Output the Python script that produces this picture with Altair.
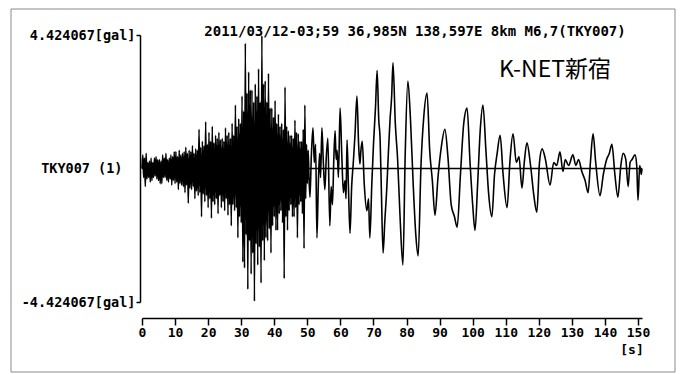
import altair as alt
import pandas as pd

AMAX = 4.424067

# dense early part: one row per second, values at +0.00, +0.25, +0.50, +0.75 s (gal)
sec_starts = list(range(0, 50))
dense_rows = [
    [0.0, 0.45, -0.3, 0.35], [-0.6, 0.5, -0.35, 0.2], [-0.3, 0.25, -0.45, 0.35], [-0.4, 0.2, -0.3, 0.35],
    [-0.25, 0.4, -0.35, 0.3], [-0.4, 0.3, -0.5, 0.25], [-0.5, 0.45, -0.3, 0.35], [-0.3, 0.5, -0.4, 0.3],
    [-0.45, 0.35, -0.35, 0.45], [-0.55, 0.4, -0.4, 0.55], [-0.5, 0.55, -0.45, 0.4], [-0.7, 0.6, -0.5, 0.45],
    [-0.55, 0.5, -0.6, 0.55], [-0.8, 0.7, -0.55, 0.5], [-1.15, 0.6, -0.65, 0.55], [-0.7, 0.75, -0.6, 0.5],
    [-1.0, 0.65, -0.75, 0.6], [-0.9, 1.3, -0.8, 0.7], [-1.6, 0.9, -0.85, 0.75], [-1.1, 1.55, -0.9, 0.8],
    [-1.3, 1.2, -1.0, 0.9], [-1.65, 1.4, -1.1, 0.85], [-1.2, 1.1, -1.0, 1.0], [-1.5, 1.2, -0.9, 0.95],
    [-1.3, 1.0, -1.1, 0.9], [-1.4, 1.35, -1.0, 1.1], [-1.55, 1.2, -1.2, 1.0], [-1.9, 1.5, -1.2, 1.1],
    [-1.4, 2.1, -1.3, 1.4], [-2.3, 1.65, -1.6, 1.5], [-1.8, 2.4, -3.1, 1.9], [-3.3, 4.15, -2.2, 2.5],
    [-4.0, 3.2, -2.4, 2.6], [-3.5, 2.6, -2.8, 2.2], [-4.4, 2.8, -2.5, 2.4], [-3.2, 3.3, -2.6, 2.2],
    [-3.8, 4.4, -2.4, 2.8], [-3.05, 2.9, -2.3, 2.2], [-2.4, 3.15, -2.0, 2.0], [-2.8, 2.0, -1.9, 1.7],
    [-1.6, 2.25, -2.05, 1.5], [-2.05, 1.8, -1.5, 1.4], [-1.4, 1.5, -1.8, 1.3], [-3.65, 2.7, -1.6, 1.4],
    [-2.05, 1.25, -1.4, 1.1], [-1.2, 1.1, -1.6, 1.0], [-1.6, 1.6, -1.3, 1.2], [-2.3, 1.15, -1.2, 0.9],
    [-1.1, 0.9, -1.5, 1.3], [-2.65, 2.1, -1.0, 0.8],
]
quarter_offsets = [0.0, 0.25, 0.5, 0.75]

# later, longer-period part (time s, acceleration gal)
t_late = [50.0, 50.25, 50.5, 50.8, 51.2, 51.7, 52.1, 52.5, 52.9, 53.3, 53.7, 54.0, 54.4, 54.8, 55.3, 55.7,
          56.2, 56.8, 57.2, 57.6, 58.0, 58.4, 58.7, 59.0, 59.4, 59.9, 60.4, 60.9, 61.4, 61.7, 62.0, 62.4,
          62.9, 63.4, 63.9, 64.4, 65.0, 65.5, 65.9, 66.2, 66.6, 67.2, 68.0, 68.5, 68.9, 69.5, 70.0, 70.6,
          71.1, 71.6, 72.0, 72.4, 72.9, 73.4, 74.0, 74.5, 75.0, 75.5, 75.9, 76.6, 77.3, 78.0, 78.9, 79.6,
          80.4, 81.2, 82.0, 82.8, 83.5, 84.4, 85.2, 86.2, 87.0, 87.8, 88.6, 89.5, 90.5, 91.6, 92.5, 93.5,
          94.5, 95.3, 96.3, 97.3, 98.3, 99.2, 100.0, 100.7, 101.5, 102.3, 103.1, 104.0, 104.8, 105.8, 106.6,
          107.4, 108.3, 109.2, 110.4, 111.3, 112.2, 113.2, 114.0, 114.9, 115.6, 116.4, 117.5, 118.5, 119.4,
          120.2, 121.0, 122.0, 123.4, 124.5, 125.4, 126.4, 127.3, 128.0, 129.0, 130.3, 131.2, 132.0, 133.0,
          134.0, 134.9, 135.6, 136.4, 137.2, 138.5, 139.5, 140.5, 141.3, 142.1, 143.0, 143.9, 144.8, 145.5,
          146.3, 147.0, 147.6, 148.2, 149.1, 149.6, 150.0, 150.5, 151.0, 151.2]
v_late = [-0.5, 0.6, -0.3, -0.95, 0.4, 1.35, 0.2, 0.8, -2.3, -0.6, 0.5, -0.3, 1.35, 0.3, -0.7, 0.3,
          1.0, -1.9, -0.6, -1.2, 0.3, 1.25, 0.3, 0.6, -0.3, 2.0, 0.5, -0.8, -0.4, -1.0, 0.95, -0.5,
          -2.15, -0.6, 0.2, 1.1, 2.4, 0.8, 0.15, 0.6, 0.9, -0.5, -1.4, -1.0, -2.3, -0.5, 0.8, 2.0,
          3.25, 1.6, 1.0, -0.8, -2.8, -1.8, -0.7, 0.5, 1.6, 2.4, 3.5, 1.5, 0.3, -1.5, -3.2, 0.5,
          2.9, 1.6, -0.5, -2.2, -2.9, 0.2, 1.7, 2.5, 0.6, -0.4, -1.55, -0.3, 0.7, 1.3, 0.4, -1.2,
          -1.6, -1.95, -0.2, 1.5, 2.0, 0.2, -1.2, -2.05, -0.5, 1.3, 2.1, 0.6, -0.8, -1.6, -0.2,
          0.5, 1.1, -0.2, -1.3, 0.3, 1.15, 0.2, 0.4, -0.65, 0.2, 0.85, 0.1, -0.9, -1.45,
          0.2, 0.65, 0.3, -0.55, 0.2, 0.1, 0.55, -0.1, 0.3, 0.1, 0.45, 0.1, 0.3, -0.1,
          -0.4, -0.8, 0.2, 1.15, 0.2, -0.9, -0.2, 0.3, 0.5, 0.8, -0.2, -0.95, 0.1, 0.5,
          0.3, -0.6, 0.2, 0.3, 0.45, 0.1, -1.05, 0.1, -0.2, 0.0]

x_ticks = [0, 10, 20, 30, 40, 50, 60, 70, 80, 90, 100, 110, 120, 130, 140, 150]
y_ticks = [-AMAX, 0, AMAX]
T_END = 151.2

title_txt = "2011/03/12-03;59 36,985N 138,597E 8km M6,7(TKY007)"
station_txt = "K-NET新宿"
unit_x = "[s]"

times, vals = [], []
for s, row in zip(sec_starts, dense_rows):
    for q, v in zip(quarter_offsets, row):
        times.append(s + q)
        vals.append(v)
times += t_late
vals += v_late
df = pd.DataFrame({"t": times, "a": vals, "i": list(range(len(times)))})

W, H = 500, 267
MONO = "DejaVu Sans Mono"

xs = alt.Scale(domain=[0, T_END], nice=False, zero=False)
ys = alt.Scale(domain=[-AMAX, AMAX], nice=False)

x_axis = alt.Axis(values=x_ticks, orient="bottom", offset=16, tickSize=7, tickWidth=1.5, tickColor="black",
                  domainColor="black", domainWidth=1.5, labelFont=MONO, labelFontWeight="bold",
                  labelFontSize=13, labelColor="black", labelPadding=1, labelFlush=False,
                  labelOverlap=False, grid=False, title=None, format="d")
y_axis = alt.Axis(values=y_ticks, orient="left", offset=2, tickSize=4, tickWidth=1.5, tickColor="black",
                  tickOpacity={"condition": {"test": "datum.value === 0", "value": 0}, "value": 1},
                  labelPadding={"condition": {"test": "datum.value === 0", "value": 14}, "value": 1},
                  domainColor="black", domainWidth=1.5, labelFont=MONO, labelFontWeight="bold",
                  labelFontSize=13.5, labelColor="black", labelFlush=False, labelOverlap=False, grid=False,
                  title=None,
                  labelExpr="datum.value > 0 ? '4.424067[gal]' : (datum.value < 0 ? '-4.424067[gal]' : 'TKY007 (1)')")

trace = alt.Chart(df).mark_line(color="black", strokeWidth=1.6, clip=False, interpolate="monotone").encode(
    x=alt.X("t:Q", scale=xs, axis=x_axis),
    y=alt.Y("a:Q", scale=ys, axis=y_axis),
    order="i:Q",
)

zero_df = pd.DataFrame({"t0": [0.0], "t1": [T_END], "a": [0.0]})
zero = alt.Chart(zero_df).mark_rule(color="black", strokeWidth=1.5).encode(
    x=alt.X("t0:Q", scale=xs, axis=x_axis), x2="t1:Q", y=alt.Y("a:Q", scale=ys, axis=y_axis)
)

frame = alt.Chart(pd.DataFrame({"k": [0]})).mark_rect(fill=None, stroke="#8a8a8a", strokeWidth=1).encode(
    x=alt.value(-131), x2=alt.value(533), y=alt.value(-26), y2=alt.value(337)
)

title = alt.Chart(pd.DataFrame({"s": [title_txt]})).mark_text(
    font=MONO, fontWeight="bold", fontSize=14, color="black", align="center", baseline="middle"
).encode(text="s:N", x=alt.value(273), y=alt.value(-3))

station = alt.Chart(pd.DataFrame({"s": [station_txt]})).mark_text(
    font="Noto Sans CJK JP", fontSize=23, color="black", align="center", baseline="middle"
).encode(text="s:N", x=alt.value(413), y=alt.value(35))

sunit = alt.Chart(pd.DataFrame({"s": [unit_x]})).mark_text(
    font=MONO, fontWeight="bold", fontSize=13, color="black", align="center", baseline="middle"
).encode(text="s:N", x=alt.value(490), y=alt.value(315))

chart = alt.layer(trace, zero, frame, title, station, sunit).properties(
    width=W, height=H,
    autosize=alt.AutoSizeParams(type="none"),
    padding={"left": 142, "top": 35, "right": 41, "bottom": 72},
    background="white",
).configure_view(stroke=None)

chart.save("out.html", embed_options={"renderer": "svg", "actions": False})
